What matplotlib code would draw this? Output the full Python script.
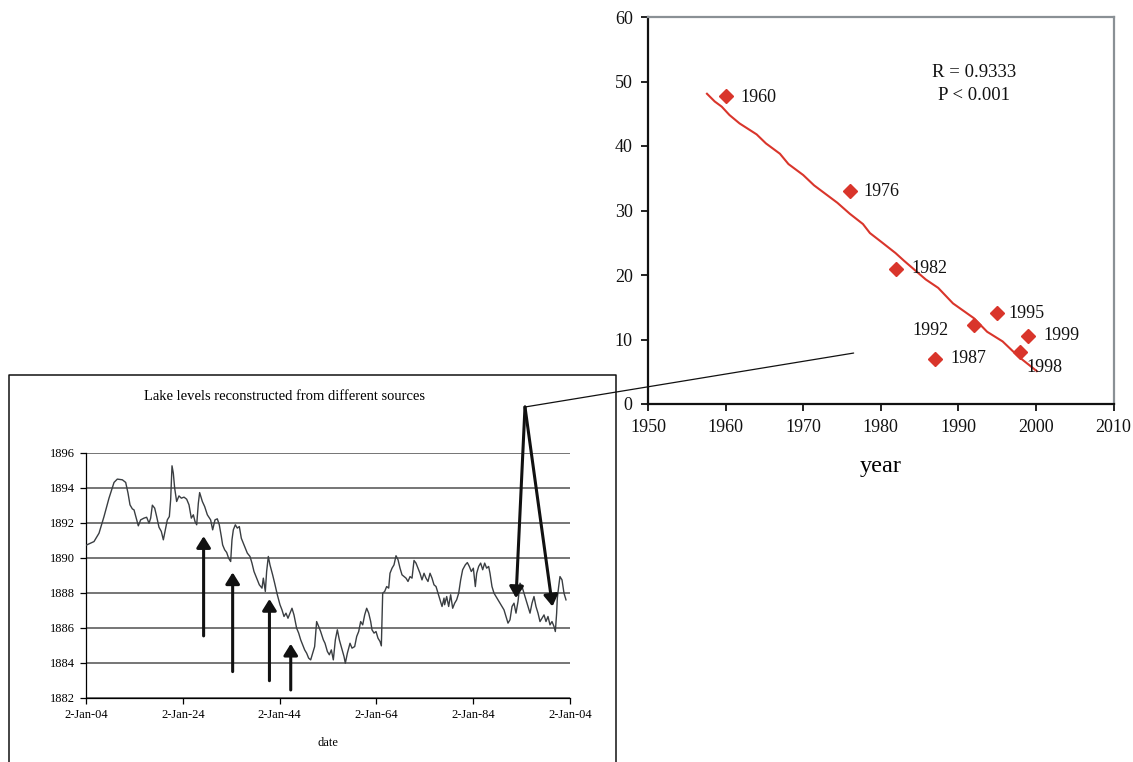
import matplotlib
matplotlib.use("Agg")
import matplotlib.pyplot as plt
from matplotlib.lines import Line2D
from matplotlib.patches import ConnectionPatch

# ---------------- data: scatter (top right) ----------------
obs_years = [1960, 1976, 1982, 1987, 1992, 1995, 1998, 1999]
obs_values = [47.8, 33.0, 21.0, 7.0, 12.3, 14.1, 8.0, 10.6]
obs_labels = ["1960", "1976", "1982", "1987", "1992", "1995", "1998", "1999"]

trend_years = [1957.6, 1958.6, 1959.5, 1960.5, 1961.8, 1964.0, 1965.2, 1967.0,
               1968.1, 1970.0, 1971.4, 1974.4, 1976.0, 1977.7, 1978.6, 1980.1,
               1981.9, 1983.0, 1985.8, 1987.4, 1989.3, 1992.0, 1993.7, 1995.7,
               1997.7, 2000.1]
trend_values = [48.1, 46.9, 46.1, 44.8, 43.5, 41.8, 40.4, 38.8,
                37.2, 35.5, 33.9, 31.2, 29.5, 27.9, 26.5, 25.1,
                23.4, 22.2, 19.3, 18.0, 15.6, 13.3, 11.2, 9.7,
                7.4, 5.1]

scatter_xticks = [1950, 1960, 1970, 1980, 1990, 2000, 2010]
scatter_yticks = [0, 10, 20, 30, 40, 50, 60]
stats_text = "R = 0.9333\nP < 0.001"

# ---------------- data: lake levels (bottom left) ----------------
lake_years = [
    1904.00, 1905.65, 1906.69, 1907.72, 1908.75, 1909.79, 1910.47, 1911.51, 1912.20, 1912.68,
    1913.09, 1913.57, 1913.92, 1914.26, 1914.81, 1915.29, 1915.98, 1916.53, 1917.02, 1917.36,
    1917.71, 1918.19, 1918.60, 1919.08, 1919.56, 1919.98, 1920.39, 1920.80, 1921.22, 1921.49,
    1921.77, 1922.04, 1922.32, 1922.73, 1923.21, 1923.70, 1924.25, 1924.80, 1925.28, 1925.76,
    1926.18, 1926.52, 1926.87, 1927.21, 1927.48, 1928.04, 1928.52, 1929.07, 1929.75, 1930.17,
    1930.65, 1931.13, 1931.54, 1931.96, 1932.23, 1932.65, 1933.06, 1933.47, 1933.89, 1934.16,
    1934.44, 1934.85, 1935.26, 1935.68, 1936.09, 1936.50, 1936.92, 1937.33, 1937.88, 1938.29,
    1938.71, 1939.26, 1939.81, 1940.36, 1940.64, 1941.05, 1941.32, 1941.67, 1942.01, 1942.56,
    1942.98, 1943.53, 1944.08, 1944.49, 1944.91, 1945.32, 1945.73, 1946.15, 1946.56, 1946.97,
    1947.52, 1947.94, 1948.35, 1948.76, 1949.18, 1949.59, 1950.00, 1950.42, 1950.83, 1951.24,
    1951.65, 1952.07, 1952.48, 1953.03, 1953.38, 1953.87, 1954.28, 1954.69, 1955.10, 1955.52,
    1955.93, 1956.34, 1956.83, 1957.31, 1957.58, 1958.00, 1958.55, 1958.96, 1959.51, 1959.93,
    1960.34, 1960.75, 1961.17, 1961.58, 1961.99, 1962.41, 1962.82, 1963.09, 1963.51, 1963.92,
    1964.33, 1964.75, 1965.02, 1965.30, 1965.71, 1966.12, 1966.54, 1966.81, 1967.23, 1967.64,
    1968.05, 1968.47, 1968.88, 1969.29, 1969.71, 1970.12, 1970.53, 1970.95, 1971.36, 1971.77,
    1972.18, 1972.60, 1973.01, 1973.42, 1973.84, 1974.25, 1974.66, 1975.08, 1975.49, 1975.90,
    1976.32, 1976.73, 1977.14, 1977.56, 1977.97, 1978.10, 1978.52, 1978.93, 1979.34, 1979.76,
    1980.17, 1980.58, 1981.00, 1981.41, 1981.82, 1982.37, 1982.79, 1983.20, 1983.61, 1984.03,
    1984.44, 1984.72, 1985.13, 1985.54, 1985.96, 1986.37, 1986.78, 1987.19, 1987.47, 1987.88,
    1988.30, 1988.71, 1989.12, 1989.54, 1989.95, 1990.36, 1990.78, 1991.19, 1991.60, 1992.02,
    1992.43, 1992.84, 1993.26, 1993.67, 1994.08, 1994.50, 1994.91, 1995.32, 1995.74, 1996.15,
    1996.56, 1996.97, 1997.39, 1997.80, 1998.21, 1998.63, 1999.04, 1999.45, 1999.87, 2000.28,
    2000.69, 2000.97, 2001.24, 2001.38, 2001.66, 2001.93, 2002.35, 2002.76, 2003.17]
lake_levels = [
    1890.70, 1890.91, 1891.39, 1892.34, 1893.39, 1894.29, 1894.48, 1894.44, 1894.29, 1893.68,
    1893.01, 1892.78, 1892.72, 1892.38, 1891.81, 1892.15, 1892.25, 1892.30, 1891.96, 1892.25,
    1892.99, 1892.82, 1892.34, 1891.73, 1891.49, 1891.01, 1891.58, 1892.15, 1892.34, 1893.30,
    1895.24, 1894.82, 1893.96, 1893.20, 1893.52, 1893.39, 1893.45, 1893.33, 1893.01, 1892.25,
    1892.44, 1892.06, 1891.87, 1893.10, 1893.71, 1893.20, 1892.91, 1892.44, 1892.15, 1891.58,
    1892.15, 1892.21, 1891.87, 1891.20, 1890.72, 1890.44, 1890.29, 1889.96, 1889.77, 1891.01,
    1891.58, 1891.87, 1891.68, 1891.77, 1891.10, 1890.82, 1890.53, 1890.25, 1890.06, 1889.68,
    1889.20, 1888.82, 1888.44, 1888.25, 1888.82, 1888.06, 1889.20, 1890.06, 1889.58, 1889.01,
    1888.53, 1887.87, 1887.30, 1887.01, 1886.63, 1886.82, 1886.53, 1886.82, 1887.10, 1886.72,
    1885.96, 1885.68, 1885.30, 1885.01, 1884.72, 1884.53, 1884.25, 1884.15, 1884.53, 1884.91,
    1886.34, 1886.06, 1885.77, 1885.30, 1885.10, 1884.63, 1884.44, 1884.72, 1884.15, 1885.30,
    1885.87, 1885.30, 1884.82, 1884.34, 1883.96, 1884.53, 1885.10, 1884.82, 1884.91, 1885.49,
    1885.77, 1886.34, 1886.15, 1886.72, 1887.10, 1886.82, 1886.34, 1885.87, 1885.68, 1885.77,
    1885.39, 1885.20, 1884.95, 1887.96, 1888.06, 1888.34, 1888.25, 1889.10, 1889.39, 1889.58,
    1890.10, 1889.87, 1889.39, 1889.01, 1888.91, 1888.82, 1888.63, 1888.91, 1888.82, 1889.83,
    1889.68, 1889.39, 1889.10, 1888.72, 1889.10, 1888.82, 1888.63, 1889.10, 1888.82, 1888.44,
    1888.34, 1887.96, 1887.58, 1887.20, 1887.68, 1887.30, 1887.77, 1887.20, 1887.87, 1887.10,
    1887.39, 1887.58, 1887.96, 1888.72, 1889.30, 1889.58, 1889.71, 1889.49, 1889.20, 1889.39,
    1888.34, 1889.10, 1889.49, 1889.68, 1889.30, 1889.68, 1889.39, 1889.49, 1889.10, 1888.34,
    1887.96, 1887.77, 1887.58, 1887.39, 1887.20, 1887.01, 1886.63, 1886.25, 1886.44, 1887.20,
    1887.39, 1886.82, 1887.49, 1888.53, 1888.34, 1887.96, 1887.58, 1887.20, 1886.82, 1887.39,
    1887.77, 1887.20, 1886.82, 1886.34, 1886.53, 1886.72, 1886.34, 1886.63, 1886.15, 1886.34,
    1886.06, 1885.77, 1886.82, 1887.68, 1888.34, 1888.91, 1888.72, 1887.96, 1887.58]

lake_xticks = [1904, 1924, 1944, 1964, 1984, 2004]
lake_xticklabels = ["2-Jan-04", "2-Jan-24", "2-Jan-44", "2-Jan-64", "2-Jan-84", "2-Jan-04"]
lake_yticks = [1882, 1884, 1886, 1888, 1890, 1892, 1894, 1896]
lake_title = "Lake levels reconstructed from different sources"

# up arrows: (year, tail level, head level)
up_arrow_years = [1928.3, 1934.3, 1941.9, 1946.3]
up_arrow_tails = [1885.52, 1883.48, 1882.96, 1882.43]
up_arrow_heads = [1891.22, 1889.15, 1887.63, 1885.07]
# down arrows from a common apex
apex = (1994.7, 1898.6)
down_arrow_years = [1992.84, 2000.38]
down_arrow_heads = [1887.68, 1887.20]
# connector end point on the scatter chart
connector_end = (1976.5, 7.9)

# ---------------- figure ----------------
W, H = 1133, 762
plt.rcParams['font.family'] = ['Liberation Serif', 'DejaVu Serif']
fig = plt.figure(figsize=(W / 100, H / 100), dpi=100)

RED = '#d9352b'

# scatter axes
ax1 = fig.add_axes([648 / W, 1 - 404 / H, 465.6 / W, 387 / H])
ax1.plot(trend_years, trend_values, color=RED, lw=1.5, zorder=2)
ax1.plot(obs_years, obs_values, linestyle='none', marker='D', ms=7.6,
         color=RED, mec=RED, zorder=3)
label_offsets = {
    "1960": (11, -1, 'left'), "1976": (10, 0, 'left'), "1982": (11, 0, 'left'),
    "1987": (11, 0, 'left'), "1992": (-18, -4, 'right'), "1995": (8, 0, 'left'),
    "1998": (4, -11, 'left'), "1999": (11, 0, 'left'),
}
for xv, yv, lab in zip(obs_years, obs_values, obs_labels):
    dx, dy, ha = label_offsets[lab]
    ax1.annotate(lab, (xv, yv), xytext=(dx, dy), textcoords='offset points',
                 ha=ha, va='center', fontsize=13, color='#111111')
ax1.text(0.70, 0.827, stats_text, transform=ax1.transAxes, ha='center', va='center',
         fontsize=13.5, linespacing=1.4, color='#111111')
ax1.set_xlim(1950, 2010)
ax1.set_ylim(0, 60)
ax1.set_xticks(scatter_xticks)
ax1.set_yticks(scatter_yticks)
ax1.tick_params(direction='out', length=5, width=1.3, labelsize=13, pad=6,
                colors='#111111')
ax1.set_xlabel('year', fontsize=17.5, labelpad=14)
for s in ['left', 'bottom']:
    ax1.spines[s].set_color('#111111')
    ax1.spines[s].set_linewidth(1.6)
for s in ['top', 'right']:
    ax1.spines[s].set_color('#8a9095')
    ax1.spines[s].set_linewidth(1.6)

# lake-level axes
ax2 = fig.add_axes([86 / W, 1 - 697.5 / H, 484 / W, 245 / H])
ax2.set_xlim(1904, 2004)
ax2.set_ylim(1882, 1896)
ax2.set_yticks(lake_yticks)
ax2.set_xticks(lake_xticks)
ax2.set_xticklabels(lake_xticklabels)
ax2.yaxis.grid(True, color='#6a6a6a', lw=1.3)
ax2.set_axisbelow(True)
ax2.plot(lake_years, lake_levels, color='#3a3e42', lw=1.0, zorder=3)
ax2.spines['top'].set_visible(False)
ax2.spines['right'].set_visible(False)
ax2.spines['left'].set_linewidth(0.9)
ax2.spines['bottom'].set_linewidth(0.9)
ax2.tick_params(direction='out', length=4, width=0.9, labelsize=9, pad=4)
ax2.set_xlabel('date', fontsize=9, labelpad=12)
fig.text(284.5 / W, 1 - 397 / H, lake_title, ha='center', va='center', fontsize=10.5)

arrow_kw = dict(arrowstyle='-|>,head_length=0.45,head_width=0.28', lw=2.2,
                color='#111111', mutation_scale=15, shrinkA=0, shrinkB=0)
for xv, yt, yh in zip(up_arrow_years, up_arrow_tails, up_arrow_heads):
    ax2.annotate('', xy=(xv, yh), xytext=(xv, yt), arrowprops=arrow_kw,
                 annotation_clip=False, zorder=5)
for xv, yh in zip(down_arrow_years, down_arrow_heads):
    ax2.annotate('', xy=(xv, yh), xytext=apex, arrowprops=arrow_kw,
                 annotation_clip=False, zorder=5)

con = ConnectionPatch(xyA=apex, coordsA=ax2.transData, xyB=connector_end,
                      coordsB=ax1.transData, color='#111111', lw=0.9)
fig.add_artist(con)

# frame around the lake-level chart
fig.add_artist(Line2D([9 / W, 9 / W, 616 / W, 616 / W],
                      [-0.02, 1 - 375 / H, 1 - 375 / H, -0.02],
                      transform=fig.transFigure, color='#111111', lw=1.1))

fig.savefig('out.png', dpi=100)
